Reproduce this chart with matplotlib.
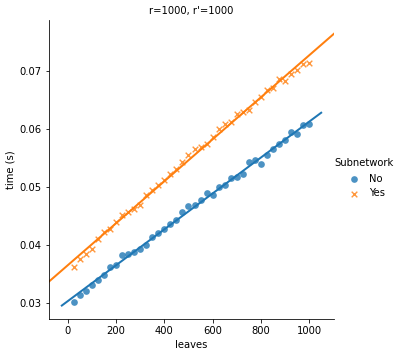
import matplotlib
matplotlib.use("Agg")
import matplotlib.pyplot as plt
import numpy as np

# leaves (x) shared by both series
leaves = [25, 50, 75, 100, 125, 150, 175, 200, 225, 250,
          275, 300, 325, 350, 375, 400, 425, 450, 475, 500,
          525, 550, 575, 600, 625, 650, 675, 700, 725, 750,
          775, 800, 825, 850, 875, 900, 925, 950, 975, 1000]

# time (s) without subnetwork
time_no = [0.0302, 0.0314, 0.0321, 0.0331, 0.0340, 0.0348, 0.0363, 0.0366, 0.0383, 0.0384,
           0.0388, 0.0393, 0.0400, 0.0414, 0.0421, 0.0428, 0.0436, 0.0443, 0.0457, 0.0467,
           0.0469, 0.0478, 0.0490, 0.0486, 0.0500, 0.0503, 0.0516, 0.0517, 0.0522, 0.0543,
           0.0547, 0.0540, 0.0555, 0.0566, 0.0574, 0.0581, 0.0595, 0.0591, 0.0607, 0.0609]

# time (s) with subnetwork
time_yes = [0.0362, 0.0376, 0.0384, 0.0393, 0.0410, 0.0422, 0.0428, 0.0440, 0.0452, 0.0457,
            0.0462, 0.0469, 0.0486, 0.0495, 0.0503, 0.0512, 0.0522, 0.0531, 0.0543, 0.0555,
            0.0566, 0.0569, 0.0574, 0.0586, 0.0600, 0.0609, 0.0612, 0.0626, 0.0629, 0.0634,
            0.0647, 0.0655, 0.0667, 0.0672, 0.0686, 0.0684, 0.0695, 0.0702, 0.0712, 0.0715]

labels = ["No", "Yes"]
colors = ["#1f77b4", "#ff7f0e"]
markers = ["o", "x"]

fig = plt.figure(figsize=(407 / 72, 357 / 72), dpi=72)
ax = fig.add_axes([0.120, 0.106, 0.701, 0.838])

x = np.array(leaves)
for lab, ys, c, m in zip(labels, [time_no, time_yes], colors, markers):
    ys = np.array(ys)
    if m == "x":
        ax.scatter(x, ys, c=c, marker=m, s=32, linewidths=1.4, alpha=0.8, label=lab)
    else:
        ax.scatter(x, ys, c=c, marker=m, s=45, linewidths=0, alpha=0.8, label=lab)
    # regression line spans the current x limits (like seaborn with truncate=False)
    x0, x1 = ax.get_xlim()
    grid = np.linspace(x0, x1, 100)
    slope, icpt = np.polyfit(x, ys, 1)
    ax.plot(grid, slope * grid + icpt, color=c, lw=2)
    last = (x0, x1)

ax.set_xlim(*last)
ax.set_xticks([0, 200, 400, 600, 800, 1000])
ax.set_yticks([0.03, 0.04, 0.05, 0.06, 0.07])
ax.tick_params(labelsize=10)
ax.spines["top"].set_visible(False)
ax.spines["right"].set_visible(False)
ax.set_xlabel("leaves", fontsize=10)
ax.set_ylabel("time (s)", fontsize=10)
ax.set_title("r=1000, r'=1000", fontsize=10)

fig.legend(title="Subnetwork", loc="center left", bbox_to_anchor=(0.80, 0.50),
           frameon=False, fontsize=10, title_fontsize=10, handletextpad=0.5)

fig.savefig("out.png", dpi=72)
